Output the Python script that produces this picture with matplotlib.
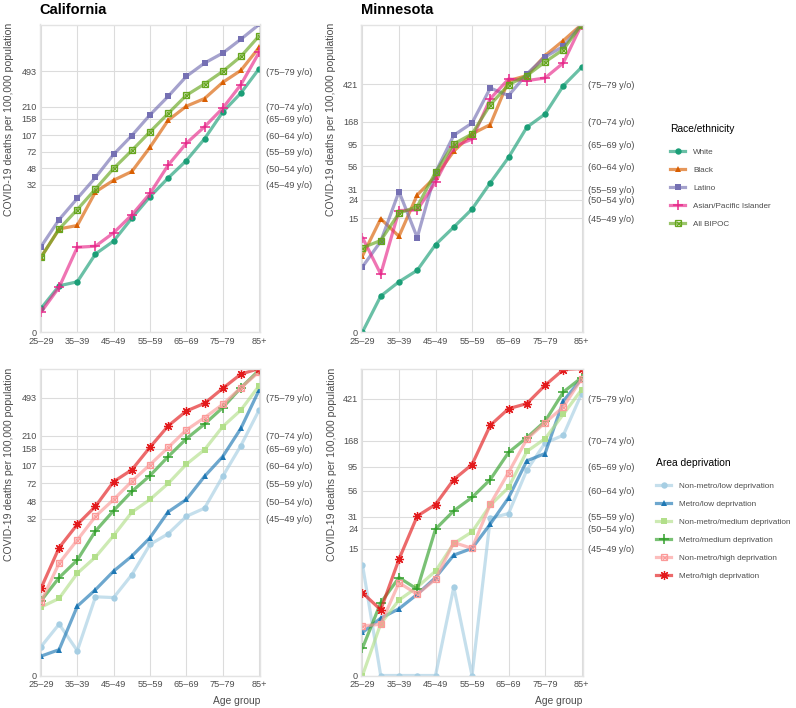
import matplotlib
matplotlib.use("Agg")
import matplotlib.pyplot as plt
from matplotlib.lines import Line2D
import numpy as np

plt.rcParams['font.family'] = ['Liberation Sans', 'DejaVu Sans']

ages = ['25–29', '30–34', '35–39', '40–44', '45–49', '50–54', '55–59',
        '60–64', '65–69', '70–74', '75–79', '80–84', '85+']
right_labels = ['(45–49 y/o)', '(50–54 y/o)', '(55–59 y/o)', '(60–64 y/o)',
                '(65–69 y/o)', '(70–74 y/o)', '(75–79 y/o)']

ca_ticks = [0, 32, 48, 72, 107, 158, 210, 493]
mn_ticks = [0, 15, 24, 31, 56, 95, 168, 421]

# race / ethnicity
race_names = ['White', 'Black', 'Latino', 'Asian/Pacific Islander', 'All BIPOC']
white_ca = [0.75, 2.0, 2.3, 5.4, 7.7, 14, 24, 38, 58, 98, 186, 293, 523]
black_ca = [4.9, 10.6, 11.6, 27, 36, 44.5, 80, 153, 214, 257, 378, 503, 868]
latino_ca = [6.6, 13.5, 23, 38.5, 67.5, 106, 174, 271, 436, 599, 759, 1057, 1600]
api_ca = [0.6, 1.9, 6.5, 6.7, 9.6, 15.2, 26, 52, 88, 131, 204, 358, 771]
bipoc_ca = [4.9, 10.6, 17.4, 29, 48, 74, 116, 180, 278, 364, 491, 701, 1143]

white_mn = [0, 1.4, 2.4, 3.5, 7.4, 11.9, 19, 37, 69.5, 146, 202, 404, 634]
black_mn = [5.4, 14.8, 9.3, 27.3, 43, 81, 124, 156, 457, 517, 843, 1216, 1900]
latino_mn = [3.9, 8.1, 29.7, 9.0, 48, 120, 162, 382, 317, 538, 815, 1058, 1900]
api_mn = [9.0, 3.1, 18.3, 18.6, 37.6, 91, 109, 294, 476, 457, 488, 705, 1900]
bipoc_mn = [6.8, 8.3, 17.1, 20.3, 48, 97, 124, 254, 414, 517, 722, 975, 1900]

# area deprivation
dep_names = ['Non-metro/low deprivation', 'Metro/low deprivation',
             'Non-metro/medium deprivation', 'Metro/medium deprivation',
             'Non-metro/high deprivation', 'Metro/high deprivation']
nm_low_ca = [0.9, 2.15, 0.74, 4.8, 4.7, 8.5, 17.7, 22.7, 34, 41, 84.5, 169, 375]
m_low_ca = [0.54, 0.78, 3.7, 5.8, 9.3, 13.4, 20.7, 37.7, 50, 84.5, 132, 249, 586]
nm_med_ca = [3.6, 4.6, 8.8, 13.1, 21.8, 37.4, 50, 72, 111, 154, 259, 375, 646]
m_med_ca = [4.3, 7.9, 12.2, 24.2, 38.8, 60, 86, 132, 197, 274, 396, 618, 915]
nm_high_ca = [4.2, 11.3, 19.6, 34, 50, 75.5, 110, 162, 240, 316, 426, 618, 882]
m_high_ca = [6.0, 16.4, 28.2, 42.8, 75, 98, 163, 263, 367, 436, 609, 838, 1000]

nm_low_mn = [10.3, 0, 0, 0, 0, 5.9, 0, 30, 33.5, 88, 160, 190, 472]
m_low_mn = [1.56, 2.5, 3.3, 4.9, 7.5, 12.9, 15.1, 26.4, 47.6, 108, 127, 402, 656]
nm_med_mn = [0, 2.1, 4.2, 5.9, 8.8, 16.9, 22.1, 40.4, 60, 133, 176, 301, 516]
m_med_mn = [0.82, 3.9, 7.5, 5.6, 23.5, 35.6, 48, 71.5, 130, 180, 258, 490, 671]
nm_high_mn = [1.96, 2.06, 6.6, 4.9, 7.2, 17.3, 15.1, 41.3, 83.5, 174, 250, 353, 656]
m_high_mn = [5.1, 3.2, 11.7, 31.6, 41, 71.5, 99.6, 236, 340, 380, 567, 800, 900]

race_colors = ['#1b9e77', '#d95f02', '#7570b3', '#e7298a', '#66a61e']
race_markers = ['o', '^', 's', '+', 'sx']
dep_colors = ['#a6cee3', '#1f78b4', '#b2df8a', '#33a02c', '#fb9a99', '#e31a1c']
dep_markers = ['o', '^', 's', '+', 'sx', 'ast']

TXT = '#4d4d4d'
GRID = '#dcdcdc'


def fwd(v):
    return np.log1p(np.maximum(v, 0))


def inv(v):
    return np.expm1(v)


def marker_handles(color, marker, x=None, y=None, ax=None):
    kw = dict(ls='none', color=color)
    if marker == 'sx':
        parts = [dict(marker='s', ms=5, mfc='none', mec=color, mew=0.9),
                 dict(marker='x', ms=3.6, mec=color, mew=0.8)]
    elif marker == '+':
        parts = [dict(marker='+', ms=6.5, mew=1.1)]
    elif marker == 'ast':
        parts = [dict(marker=(8, 2, 0), ms=6.5, mew=0.9)]
    elif marker == '^':
        parts = [dict(marker='^', ms=5, mew=0)]
    else:
        parts = [dict(marker=marker, ms=4.6, mew=0)]
    out = []
    for p in parts:
        if ax is None:
            out.append(Line2D([], [], **kw, **p))
        else:
            out += ax.plot(x, y, **kw, **p)
    return out


def panel(rect, series, colors, markers, ticks, top, last_row):
    ax = fig.add_axes(rect)
    ax.set_yscale('function', functions=(fwd, inv))
    x = np.arange(len(ages))
    for y, c, m in zip(series, colors, markers):
        yy = np.minimum(np.array(y, dtype=float), top)
        ax.plot(x, yy, color=c, lw=2.3, alpha=0.65, solid_capstyle='round')
        marker_handles(c, m, x, yy, ax)
    ax.set_xlim(-0.08, 12.05)
    ax.set_ylim(0, top)
    ax.set_xticks(x[::2])
    ax.set_xticklabels(ages[::2])
    ax.set_yticks(ticks)
    ax.set_yticklabels([str(t) for t in ticks])
    ax.yaxis.set_minor_locator(plt.NullLocator())
    ax.tick_params(length=0, labelsize=6.6, colors=TXT)
    ax.tick_params(axis='x', pad=3.5)
    ax.tick_params(axis='y', pad=2)
    ax.grid(True, color=GRID, lw=0.8)
    ax.set_axisbelow(True)
    for s in ax.spines.values():
        s.set_color('#e3e3e3')
        s.set_linewidth(1.0)
    ax2 = ax.twinx()
    ax2.set_yscale('function', functions=(fwd, inv))
    ax2.set_ylim(0, top)
    ax2.set_yticks(ticks[1:])
    ax2.set_yticklabels(right_labels)
    ax2.yaxis.set_minor_locator(plt.NullLocator())
    ax2.tick_params(length=0, labelsize=6.6, colors=TXT, pad=4)
    for s in ax2.spines.values():
        s.set_visible(False)
    if last_row:
        ax.set_xlabel('Age group', fontsize=7.4, color=TXT, loc='right', labelpad=5)
    return ax


fig = plt.figure(figsize=(7.96, 7.08), dpi=100)
W, H = 796, 708


def rect(l, t, r, b):
    return [l / W, 1 - b / H, (r - l) / W, (b - t) / H]


panel(rect(39.5, 24.5, 260, 332), [white_ca, black_ca, latino_ca, api_ca, bipoc_ca],
      race_colors, race_markers, ca_ticks, 1500, False)
panel(rect(361, 24.5, 582.5, 332), [white_mn, black_mn, latino_mn, api_mn, bipoc_mn],
      race_colors, race_markers, mn_ticks, 1800, False)
panel(rect(39.5, 368.5, 260, 675.5), [nm_low_ca, m_low_ca, nm_med_ca, m_med_ca, nm_high_ca, m_high_ca],
      dep_colors, dep_markers, ca_ticks, 950, True)
panel(rect(361, 368.5, 582.5, 675.5), [nm_low_mn, m_low_mn, nm_med_mn, m_med_mn, nm_high_mn, m_high_mn],
      dep_colors, dep_markers, mn_ticks, 820, True)

fig.text(39.5 / W, 1 - 14 / H, 'California', fontsize=10.5, fontweight='bold', va='baseline')
fig.text(361 / W, 1 - 14 / H, 'Minnesota', fontsize=10.5, fontweight='bold', va='baseline')

ylab = 'COVID-19 deaths per 100,000 population'
for xp, yp in [(9, 23), (331, 23), (9, 368), (332, 368)]:
    fig.text(xp / W, 1 - yp / H, ylab, rotation=90, ha='center', va='top',
             fontsize=7.6, color=TXT)


def legend_handles(colors, markers):
    hs = []
    for c, m in zip(colors, markers):
        line = Line2D([], [], color=c, lw=2.3, alpha=0.65)
        hs.append(tuple([line] + marker_handles(c, m)))
    return hs


leg_kw = dict(loc='upper left', frameon=False, fontsize=5.9, title_fontsize=7.4,
              alignment='left', handlelength=1.85, handletextpad=0.95,
              labelspacing=1.27, borderpad=0, borderaxespad=0)

leg1 = fig.legend(legend_handles(race_colors, race_markers), race_names,
                  bbox_to_anchor=(670 / W, 1 - 124 / H), title='Race/ethnicity', **leg_kw)
leg2 = fig.legend(legend_handles(dep_colors, dep_markers), dep_names,
                  bbox_to_anchor=(656 / W, 1 - 458 / H), title='Area deprivation', **leg_kw)
for leg in (leg1, leg2):
    leg._legend_box.sep = 10
    for t in leg.get_texts():
        t.set_color(TXT)

fig.savefig('out.png', dpi=100)
